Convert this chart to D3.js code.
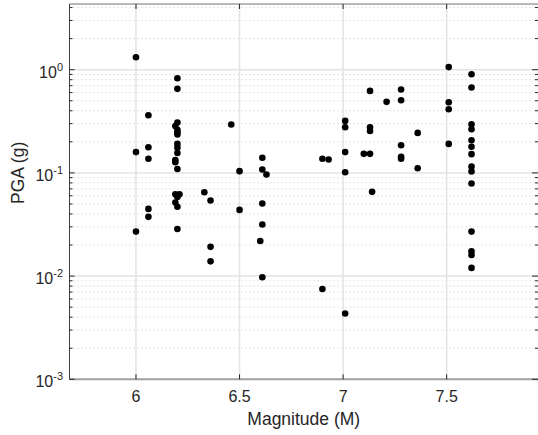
<!DOCTYPE html>
<html>
<head>
<meta charset="utf-8">
<script src="https://cdn.jsdelivr.net/npm/d3@7"></script>
<style>
  body { margin: 0; background: #fff; }
  svg { display: block; font-family: "Liberation Sans", Arial, sans-serif; }
</style>
</head>
<body>
<svg id="chart" width="538" height="435"></svg>
<script>
// magnitude / PGA pairs
const magnitude = [
  6.0, 6.0, 6.0,
  6.06, 6.06, 6.06, 6.06, 6.06,
  6.2, 6.2, 6.2, 6.19, 6.2, 6.2, 6.2, 6.2, 6.2, 6.2, 6.19, 6.19, 6.2,
  6.19, 6.21, 6.2, 6.19, 6.2, 6.2,
  6.33, 6.36, 6.36, 6.36,
  6.46, 6.5, 6.5,
  6.61, 6.61, 6.63, 6.61, 6.61, 6.6, 6.61,
  6.9, 6.93, 6.9,
  7.01, 7.01, 7.01, 7.01, 7.01,
  7.1, 7.13, 7.13, 7.13, 7.13, 7.14,
  7.21, 7.28, 7.28, 7.28, 7.28, 7.28, 7.36, 7.36,
  7.51, 7.51, 7.51, 7.51,
  7.62, 7.62, 7.62, 7.62, 7.62, 7.62, 7.62, 7.62, 7.62, 7.62, 7.62, 7.62, 7.62, 7.62
];
const pga = [
  1.32, 0.159, 0.027,
  0.362, 0.177, 0.137, 0.0448, 0.0375,
  0.827, 0.652, 0.308, 0.285, 0.262, 0.247, 0.236, 0.191, 0.175, 0.156, 0.133, 0.127, 0.109,
  0.062, 0.062, 0.0585, 0.0517, 0.047, 0.0286,
  0.065, 0.054, 0.0192, 0.0139,
  0.294, 0.104, 0.0438,
  0.14, 0.108, 0.0965, 0.0505, 0.0316, 0.0219, 0.00976,
  0.137, 0.135, 0.0075,
  0.319, 0.277, 0.159, 0.1016, 0.00434,
  0.153, 0.153, 0.623, 0.277, 0.255, 0.0655,
  0.488, 0.643, 0.506, 0.185, 0.143, 0.137, 0.244, 0.111,
  1.06, 0.484, 0.414, 0.191,
  0.904, 0.671, 0.296, 0.265, 0.207, 0.179, 0.152, 0.115, 0.103, 0.0789, 0.027, 0.0174, 0.016, 0.012
];
const xTicks = [6, 6.5, 7, 7.5];
const yTicks = [1e-3, 1e-2, 1e-1, 1];

const plotLeft = 69.5, plotRight = 538, plotTop = 4, plotBottom = 379.3;
const svg = d3.select("#chart");

const x = d3.scaleLinear().domain([5.679, 7.941]).range([plotLeft, plotRight]);
const y = d3.scaleLog().domain([1e-3, 4.33]).range([plotBottom, plotTop]);

// minor y values (2..9 per decade) inside the domain
const minor = [];
for (let e = -3; e <= 0; e++) {
  for (let k = 2; k <= 9; k++) {
    const v = k * Math.pow(10, e);
    if (v <= y.domain()[1]) minor.push(v);
  }
}

// minor grid (dotted)
svg.append("g").selectAll("line").data(minor).enter().append("line")
  .attr("x1", plotLeft).attr("x2", plotRight)
  .attr("y1", d => y(d)).attr("y2", d => y(d))
  .attr("stroke", "#d6d6d6").attr("stroke-width", 1)
  .attr("stroke-dasharray", "1.3,2.7");

// major grid
svg.append("g").selectAll("line").data(yTicks.slice(1)).enter().append("line")
  .attr("x1", plotLeft).attr("x2", plotRight)
  .attr("y1", d => y(d)).attr("y2", d => y(d))
  .attr("stroke", "#e3e3e3").attr("stroke-width", 1.5);
svg.append("g").selectAll("line").data(xTicks).enter().append("line")
  .attr("x1", d => x(d)).attr("x2", d => x(d))
  .attr("y1", plotTop).attr("y2", plotBottom)
  .attr("stroke", "#e3e3e3").attr("stroke-width", 1.5);

// box lines
svg.append("line").attr("x1", plotLeft).attr("x2", plotRight).attr("y1", plotTop).attr("y2", plotTop)
  .attr("stroke", "#a0a0a0").attr("stroke-width", 1.5);
svg.append("line").attr("x1", plotLeft).attr("x2", plotRight).attr("y1", plotBottom).attr("y2", plotBottom)
  .attr("stroke", "#a0a0a0").attr("stroke-width", 2);
svg.append("line").attr("x1", plotLeft).attr("x2", plotLeft).attr("y1", plotTop).attr("y2", plotBottom)
  .attr("stroke", "#404040").attr("stroke-width", 1);

// x ticks (bottom and top, inward)
const xt = svg.append("g");
xTicks.forEach(t => {
  xt.append("line").attr("x1", x(t)).attr("x2", x(t)).attr("y1", plotBottom).attr("y2", plotBottom - 5)
    .attr("stroke", "#262626");
  xt.append("line").attr("x1", x(t)).attr("x2", x(t)).attr("y1", plotTop).attr("y2", plotTop + 5)
    .attr("stroke", "#262626");
  xt.append("text").attr("x", x(t)).attr("y", 401.5)
    .attr("text-anchor", "middle").attr("font-size", 16).attr("fill", "#262626")
    .text(d3.format("")(t));
});

// y ticks (left and right, inward)
const yt = svg.append("g");
yTicks.forEach(t => {
  yt.append("line").attr("x1", plotLeft).attr("x2", plotLeft + 5).attr("y1", y(t)).attr("y2", y(t))
    .attr("stroke", "#262626");
  yt.append("line").attr("x1", plotRight - 6).attr("x2", plotRight).attr("y1", y(t)).attr("y2", y(t))
    .attr("stroke", "#262626");
  const lab = yt.append("text").attr("x", 63).attr("y", y(t) + 8)
    .attr("text-anchor", "end").attr("fill", "#262626");
  lab.append("tspan").attr("font-size", 16).text("10");
  lab.append("tspan").attr("font-size", 11).attr("dy", -7).text(Math.round(Math.log10(t)));
});
minor.forEach(t => {
  yt.append("line").attr("x1", plotLeft).attr("x2", plotLeft + 3).attr("y1", y(t)).attr("y2", y(t))
    .attr("stroke", "#262626");
  yt.append("line").attr("x1", plotRight - 3).attr("x2", plotRight).attr("y1", y(t)).attr("y2", y(t))
    .attr("stroke", "#262626");
});

// axis labels
svg.append("text").attr("x", (plotLeft + plotRight) / 2).attr("y", 425)
  .attr("text-anchor", "middle").attr("font-size", 17.5).attr("fill", "#262626")
  .text("Magnitude (M)");
svg.append("text").attr("transform", "translate(24," + y(0.1) + ") rotate(-90)")
  .attr("text-anchor", "middle").attr("font-size", 17.5).attr("fill", "#262626")
  .text("PGA (g)");

// points
svg.append("g").selectAll("circle").data(magnitude).enter().append("circle")
  .attr("cx", d => x(d))
  .attr("cy", (d, i) => y(pga[i]))
  .attr("r", 3.3)
  .attr("fill", "#000");
</script>
</body>
</html>
